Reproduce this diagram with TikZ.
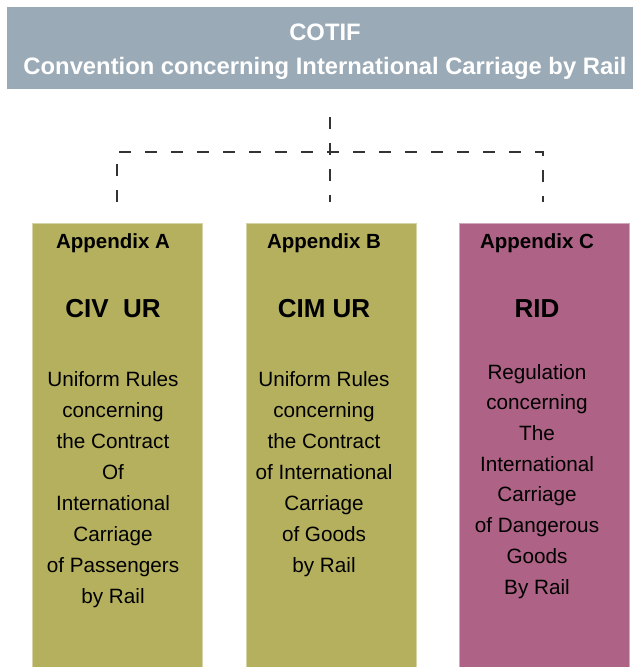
\documentclass[tikz,border=0pt]{standalone}
\usepackage{fontspec}
\setmainfont{Liberation Sans}
\definecolor{bannerc}{HTML}{9AAAB6}
\definecolor{olivebox}{HTML}{B5B05E}
\definecolor{pinkbox}{HTML}{AE6285}
\definecolor{dashc}{HTML}{333333}
\begin{document}
\begin{tikzpicture}[x=1pt,y=-1pt,
  panel/.style={fill=#1, draw=#1!55!white, line width=0.6pt, minimum width=170pt, minimum height=444pt, inner sep=0pt, anchor=north west},
  headtxt/.style={font=\bfseries\fontsize{23.8}{28}\selectfont, text=white, anchor=base, inner sep=0pt},
  apx/.style={font=\bfseries\fontsize{20.5}{24}\selectfont, anchor=base, inner sep=0pt},
  ttl/.style={font=\bfseries\fontsize{26}{30}\selectfont, anchor=base, inner sep=0pt},
  body/.style={font=\fontsize{20.7}{31}\selectfont, align=center, anchor=base, inner sep=0pt},
  conn/.style={draw=dashc, line width=2pt, dash pattern=on 12pt off 14pt}]
\useasboundingbox (0,0) rectangle (633,667);
% banner
\node[fill=bannerc, minimum width=626pt, minimum height=82pt, inner sep=0pt, anchor=north west] (cotif) at (7,7) {};
\node[headtxt] (cotiftitle) at (325,40) {COTIF};
\node[headtxt] (cotifsub) at (325,74) {Convention concerning International Carriage by Rail};
% panels
\node[panel=olivebox] (boxa) at (32,223) {};
\node[panel=olivebox] (boxb) at (246,223) {};
\node[panel=pinkbox] (boxc) at (459,223) {};
% connectors
\coordinate (top) at (330,117);
\coordinate (mid) at (330,202);
\coordinate (la) at (117,202);
\coordinate (rc) at (543,202);
\draw[conn] (top) -- (mid);
\draw[conn] (la) -- (la |- 0,152) -- (rc |- 0,152) -- (rc);
% texts A
\node[apx] (apxa) at (113,248) {Appendix A};
\node[ttl] (ttla) at (113,317) {CIV\ \ UR};
\node[body] (bodya) at (113,603) {Uniform Rules\\concerning\\the Contract\\Of\\International\\Carriage\\of Passengers\\by Rail};
% texts B
\node[apx] (apxb) at (324,248) {Appendix B};
\node[ttl] (ttlb) at (324,317) {CIM UR};
\node[body] (bodyb) at (324,572) {Uniform Rules\\concerning\\the Contract\\of International\\Carriage\\of Goods\\by Rail};
% texts C
\node[apx] (apxc) at (537,248) {Appendix C};
\node[ttl] (ttlc) at (537,317) {RID};
\node[body, font=\fontsize{20.7}{30.7}\selectfont] (bodyc) at (537,594) {Regulation\\concerning\\The\\International\\Carriage\\of Dangerous\\Goods\\By Rail};
\end{tikzpicture}
\end{document}
